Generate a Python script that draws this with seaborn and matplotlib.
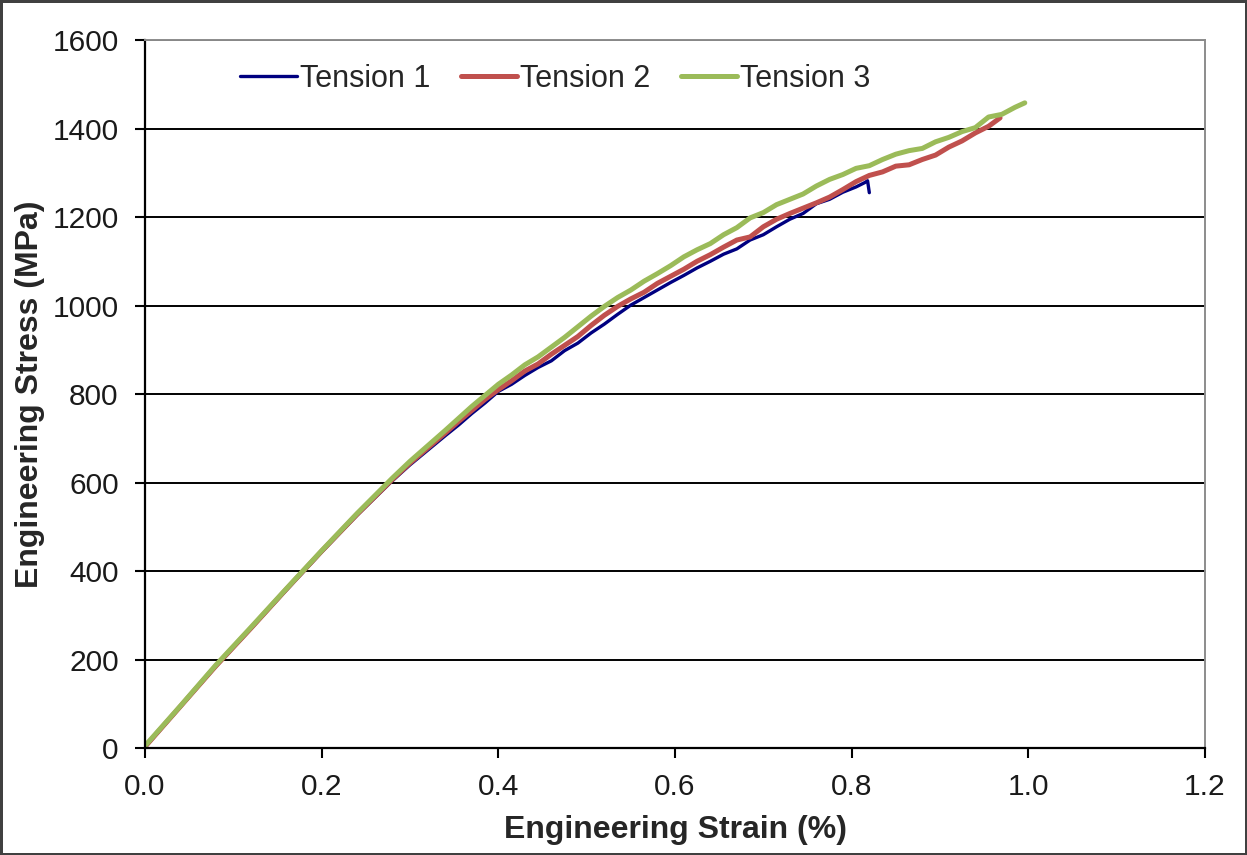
import matplotlib
matplotlib.use("Agg")
import matplotlib.pyplot as plt
import seaborn as sns
import pandas as pd

# values (strain in %, stress in MPa)
t1_strain = [0.000, 0.040, 0.080, 0.120, 0.160, 0.200, 0.240, 0.280, 0.300, 0.320,
             0.340, 0.355, 0.370, 0.385, 0.400, 0.415, 0.430, 0.445, 0.460, 0.475,
             0.490, 0.505, 0.520, 0.535, 0.550, 0.565, 0.580, 0.595, 0.610, 0.625,
             0.640, 0.655, 0.670, 0.685, 0.700, 0.715, 0.730, 0.745, 0.760, 0.775,
             0.790, 0.805, 0.815, 0.818, 0.820]
t1_stress = [2, 93, 184, 270, 357, 443, 526, 604, 640, 673,
             706, 730, 756, 780, 806, 822, 842, 860, 875, 898,
             915, 938, 958, 980, 1001, 1018, 1035, 1052, 1068, 1085,
             1100, 1116, 1128, 1148, 1160, 1178, 1195, 1208, 1230, 1240,
             1256, 1268, 1278, 1282, 1255]

t2_strain = [0.000, 0.040, 0.080, 0.120, 0.160, 0.200, 0.240, 0.280, 0.300, 0.320,
             0.340, 0.355, 0.370, 0.385, 0.400, 0.415, 0.430, 0.445, 0.460, 0.475,
             0.490, 0.505, 0.520, 0.535, 0.550, 0.565, 0.580, 0.595, 0.610, 0.625,
             0.640, 0.655, 0.670, 0.685, 0.700, 0.715, 0.730, 0.745, 0.760, 0.775,
             0.790, 0.805, 0.820, 0.835, 0.850, 0.865, 0.880, 0.895, 0.910, 0.925,
             0.940, 0.955, 0.968]
t2_stress = [3, 94, 185, 271, 359, 445, 528, 607, 644, 678,
             712, 738, 763, 788, 810, 830, 852, 868, 890, 910,
             930, 955, 978, 998, 1015, 1030, 1050, 1066, 1082, 1100,
             1115, 1132, 1148, 1155, 1178, 1195, 1208, 1220, 1232, 1245,
             1262, 1280, 1294, 1302, 1315, 1318, 1330, 1340, 1358, 1372,
             1390, 1405, 1424]

t3_strain = [0.000, 0.040, 0.080, 0.120, 0.160, 0.200, 0.240, 0.280, 0.300, 0.320,
             0.340, 0.355, 0.370, 0.385, 0.400, 0.415, 0.430, 0.445, 0.460, 0.475,
             0.490, 0.505, 0.520, 0.535, 0.550, 0.565, 0.580, 0.595, 0.610, 0.625,
             0.640, 0.655, 0.670, 0.685, 0.700, 0.715, 0.730, 0.745, 0.760, 0.775,
             0.790, 0.805, 0.820, 0.835, 0.850, 0.865, 0.880, 0.895, 0.910, 0.925,
             0.940, 0.955, 0.970, 0.985, 0.996]
t3_stress = [5, 95, 187, 273, 360, 446, 530, 610, 648, 683,
             718, 745, 772, 797, 822, 843, 866, 884, 906, 928,
             952, 976, 998, 1018, 1035, 1055, 1072, 1090, 1110, 1126,
             1140, 1160, 1176, 1198, 1210, 1228, 1240, 1252, 1270, 1285,
             1296, 1310, 1316, 1330, 1342, 1350, 1355, 1370, 1380, 1393,
             1402, 1426, 1432, 1448, 1458]

series_names = ["Tension 1", "Tension 2", "Tension 3"]
series_colors = ["#000080", "#C0504D", "#9BBB59"]
series_widths = [2.4, 3.6, 3.6]
x_ticks = [0.0, 0.2, 0.4, 0.6, 0.8, 1.0, 1.2]
y_ticks = [0, 200, 400, 600, 800, 1000, 1200, 1400, 1600]

sns.set_style("white")
plt.rcParams["font.family"] = ["Liberation Sans", "DejaVu Sans"]

fig, ax = plt.subplots(figsize=(12.47, 8.55), dpi=100, linewidth=2.5, edgecolor="#404040")
fig.subplots_adjust(left=0.1163, right=0.9663, bottom=0.1251, top=0.9532)

all_data = [(t1_strain, t1_stress), (t2_strain, t2_stress), (t3_strain, t3_stress)]
for (xs, ys), name, col, lw in zip(all_data, series_names, series_colors, series_widths):
    df = pd.DataFrame({"strain": xs, "stress": ys})
    sns.lineplot(data=df, x="strain", y="stress", sort=False, estimator=None,
                 color=col, linewidth=lw, label=name, ax=ax)

ax.set_xlim(0, 1.2)
ax.set_ylim(0, 1600)
ax.set_xticks(x_ticks)
ax.set_xticklabels([f"{v:.1f}" for v in x_ticks])
ax.set_yticks(y_ticks)
ax.set_yticklabels([str(v) for v in y_ticks])

ax.set_axisbelow(True)
ax.yaxis.grid(True, color="black", linewidth=1.4)
ax.xaxis.grid(False)

for side in ["left", "bottom"]:
    ax.spines[side].set_color("black")
    ax.spines[side].set_linewidth(1.6)
for side in ["top", "right"]:
    ax.spines[side].set_color("#8c8c8c")
    ax.spines[side].set_linewidth(1.4)

ax.tick_params(axis="both", direction="out", length=7, width=1.5, color="black",
               labelsize=21.5, labelcolor="#1a1a1a")
ax.tick_params(axis="y", pad=12, left=True)
ax.tick_params(axis="x", pad=11, bottom=True)

ax.set_xlabel("Engineering Strain (%)", fontsize=23, fontweight="bold")
ax.set_ylabel("Engineering Stress (MPa)", fontsize=23, fontweight="bold")
ax.xaxis.set_label_coords(0.5, -0.095)
ax.yaxis.set_label_coords(-0.094, 0.5)

ax.legend(loc="center left", bbox_to_anchor=(0.0896, 0.945), ncol=3, frameon=False,
          fontsize=22, handlelength=1.85, handletextpad=0.1, columnspacing=1.0,
          borderpad=0, borderaxespad=0)

plt.savefig("out.png", dpi=100)
